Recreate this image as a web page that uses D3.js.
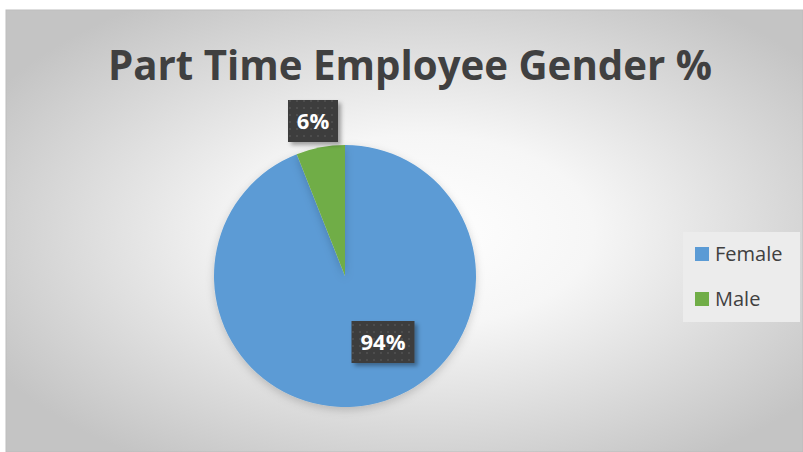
<!DOCTYPE html>
<html>
<head>
<meta charset="utf-8">
<script src="https://cdn.jsdelivr.net/npm/d3@7"></script>
<style>
  body { margin: 0; background: #fff; }
  svg { display: block; }
</style>
</head>
<body>
<div id="container"></div>
<script>
/* CONSTANTS AND GLOBALS */
const width = 803;
const height = 452;

// data
const categories = ["Female", "Male"];
const values = [94, 6];
const colors = ["#5B9BD5", "#70AD47"];
const title = "Part Time Employee Gender %";

const svg = d3.select("#container")
  .append("svg")
  .attr("width", width)
  .attr("height", height);

const defs = svg.append("defs");

// background gradient
const bg = defs.append("radialGradient")
  .attr("id", "bg")
  .attr("cx", "52%").attr("cy", "50%").attr("r", "62%");
bg.append("stop").attr("offset", "0%").attr("stop-color", "#ffffff");
bg.append("stop").attr("offset", "35%").attr("stop-color", "#f6f6f6");
bg.append("stop").attr("offset", "100%").attr("stop-color", "#c4c4c4");

// dotted label pattern
const pat = defs.append("pattern")
  .attr("id", "dots")
  .attr("width", 7).attr("height", 7)
  .attr("patternUnits", "userSpaceOnUse");
pat.append("rect").attr("width", 7).attr("height", 7).attr("fill", "#3e3e3e");
pat.append("rect").attr("x", 2).attr("y", 2).attr("width", 2).attr("height", 2).attr("fill", "#4e4e4e");

const sh = defs.append("filter").attr("id", "shadow")
  .attr("x", "-20%").attr("y", "-20%").attr("width", "150%").attr("height", "150%");
sh.append("feDropShadow").attr("dx", 3).attr("dy", 3).attr("stdDeviation", 2)
  .attr("flood-color", "#000").attr("flood-opacity", 0.35);

const psh = defs.append("filter").attr("id", "pieshadow")
  .attr("x", "-20%").attr("y", "-20%").attr("width", "140%").attr("height", "140%");
psh.append("feDropShadow").attr("dx", 0).attr("dy", 3).attr("stdDeviation", 4)
  .attr("flood-color", "#000").attr("flood-opacity", 0.18);

// chart area
svg.append("rect")
  .attr("x", 6).attr("y", 10)
  .attr("width", width - 6).attr("height", height - 10)
  .attr("fill", "url(#bg)")
  .attr("stroke", "#bdbdbd").attr("stroke-width", 1);

// TITLE
const t = svg.append("text")
  .attr("x", 410).attr("y", 80)
  .attr("text-anchor", "middle")
  .attr("font-family", "'Open Sans', sans-serif")
  .attr("font-weight", "bold")
  .attr("font-size", 42)
  .attr("fill", "#404040")
  .text(title);
const tw = t.node().getComputedTextLength();
t.attr("font-size", 42 * 604 / tw);

// PIE
const cx = 345, cy = 276, r = 131;
const pie = d3.pie().sort(null).value(d => d)(values);
const arc = d3.arc().innerRadius(0).outerRadius(r);

const g = svg.append("g").attr("transform", `translate(${cx},${cy})`);
g.selectAll("path")
  .data(pie)
  .join("path")
  .attr("d", arc)
  .attr("fill", (d, i) => colors[i])
  .attr("filter", "url(#pieshadow)");

// LABELS
const labelPos = [[383, 342], [313, 121]];
const labelW = [63, 50];
pie.forEach((d, i) => {
  const [lx, ly] = labelPos[i];
  const w = labelW[i], h = 42;
  svg.append("rect")
    .attr("x", lx - w / 2).attr("y", ly - h / 2)
    .attr("width", w).attr("height", h)
    .attr("fill", "url(#dots)")
    .attr("filter", "url(#shadow)");
  svg.append("text")
    .attr("x", lx).attr("y", ly + 8)
    .attr("text-anchor", "middle")
    .attr("font-family", "'Open Sans', sans-serif")
    .attr("font-weight", "bold")
    .attr("font-size", 22)
    .attr("fill", "#fff")
    .text(values[i] + "%");
});

// LEGEND
svg.append("rect")
  .attr("x", 683).attr("y", 232).attr("width", 117).attr("height", 90)
  .attr("fill", "#ececec");
const leg = svg.append("g");
categories.forEach((c, i) => {
  const y = 247 + i * 45;
  leg.append("rect").attr("x", 695).attr("y", y).attr("width", 14).attr("height", 14)
    .attr("fill", colors[i]);
  leg.append("text").attr("x", 715).attr("y", y + 14)
    .attr("font-family", "'Open Sans', sans-serif")
    .attr("font-size", 20)
    .attr("fill", "#404040")
    .text(c);
});
</script>
</body>
</html>
